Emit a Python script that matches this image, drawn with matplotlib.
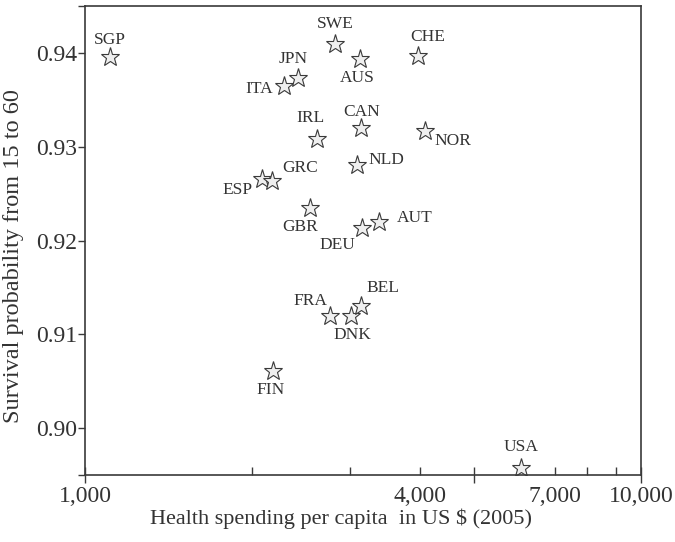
import numpy as np
import matplotlib
matplotlib.use('Agg')
import matplotlib.pyplot as plt
from matplotlib.ticker import FixedLocator, FixedFormatter

# data
countries = ['SGP', 'SWE', 'AUS', 'CHE', 'JPN', 'ITA', 'IRL', 'ESP', 'GRC', 'GBR',
             'CAN', 'NOR', 'NLD', 'DEU', 'AUT', 'FRA', 'DNK', 'BEL', 'FIN', 'USA']
spending = [1109, 2817, 3123, 3971, 2415, 2280, 2614, 2082, 2170, 2539,
            3137, 4088, 3086, 3149, 3378, 2758, 3009, 3137, 2179, 6085]
survival = [0.9396, 0.9410, 0.9394, 0.9397, 0.9373, 0.9365, 0.9308, 0.9266, 0.9263, 0.9235,
            0.9320, 0.9317, 0.9280, 0.9213, 0.9220, 0.9120, 0.9120, 0.9130, 0.9061, 0.8958]

# label placement (pixels from the star)
label_off = {
    'SGP': (0, 17), 'SWE': (0, 20), 'AUS': (-3, -19), 'CHE': (10, 19),
    'JPN': (-5, 19), 'ITA': (-25, -3), 'IRL': (-7, 21), 'ESP': (-25, -11),
    'GRC': (28, 13), 'GBR': (-10, -19), 'CAN': (0, 16), 'NOR': (28, -10),
    'NLD': (29, 5), 'DEU': (-25, -17), 'AUT': (36, 4), 'FRA': (-20, 15),
    'DNK': (1, -19), 'BEL': (22, 18), 'FIN': (-3, -19), 'USA': (0, 21),
}

plt.rcParams['font.family'] = ['Liberation Serif', 'DejaVu Serif']
dark = '#3a3a3a'

fig = plt.figure(figsize=(6.75, 5.42), dpi=100)
ax = fig.add_axes([0.126, 0.1236, 0.824, 0.8653])

ax.plot(spending, survival, linestyle='none', marker='*', markersize=14,
        markerfacecolor='#efefef', markeredgecolor=dark, markeredgewidth=0.8)

for c, x, y in zip(countries, spending, survival):
    dx, dy = label_off[c]
    ax.annotate(c, (x, y), xytext=(dx, dy), textcoords='offset pixels',
                ha='center', va='center', fontsize=12.5, color='#333333')

ax.set_xscale('log')
ax.set_xlim(1000, 10000)
ax.set_ylim(0.895, 0.945)

# x ticks: long ones crossing the axis, short ones inside
ax.xaxis.set_major_locator(FixedLocator([1000, 5000, 10000]))
ax.xaxis.set_major_formatter(FixedFormatter(['1,000', '', '10,000']))
ax.xaxis.set_minor_locator(FixedLocator([2000, 3000, 4000, 6000, 7000, 8000, 9000]))
ax.xaxis.set_minor_formatter(FixedFormatter(['', '', '4,000', '', '7,000', '', '']))
ax.tick_params(axis='x', which='major', direction='inout', length=11, width=1,
               color=dark, labelsize=17, pad=2.5, labelcolor='#333333')
ax.tick_params(axis='x', which='minor', direction='in', length=6, width=1,
               color=dark, labelsize=17, pad=8, labelcolor='#333333')

yt = [0.895, 0.90, 0.91, 0.92, 0.93, 0.94, 0.945]
ax.set_yticks(yt)
ax.set_yticklabels(['', '0.90', '0.91', '0.92', '0.93', '0.94', ''])
ax.tick_params(axis='y', which='major', direction='out', length=5, width=1,
               color=dark, labelsize=17, pad=0.5, labelcolor='#333333')
ax.yaxis.set_minor_locator(FixedLocator([]))

for s in ax.spines.values():
    s.set_color(dark)
    s.set_linewidth(1.2)

ax.set_xlabel('Health spending per capita  in US $ (2005)', fontsize=16, color='#333333')
ax.set_ylabel('Survival probability from 15 to 60', fontsize=17.5, color='#333333')
ax.xaxis.set_label_coords(0.46, -0.072)
ax.yaxis.set_label_coords(-0.11, 0.467)

fig.savefig('out.png', dpi=100)
